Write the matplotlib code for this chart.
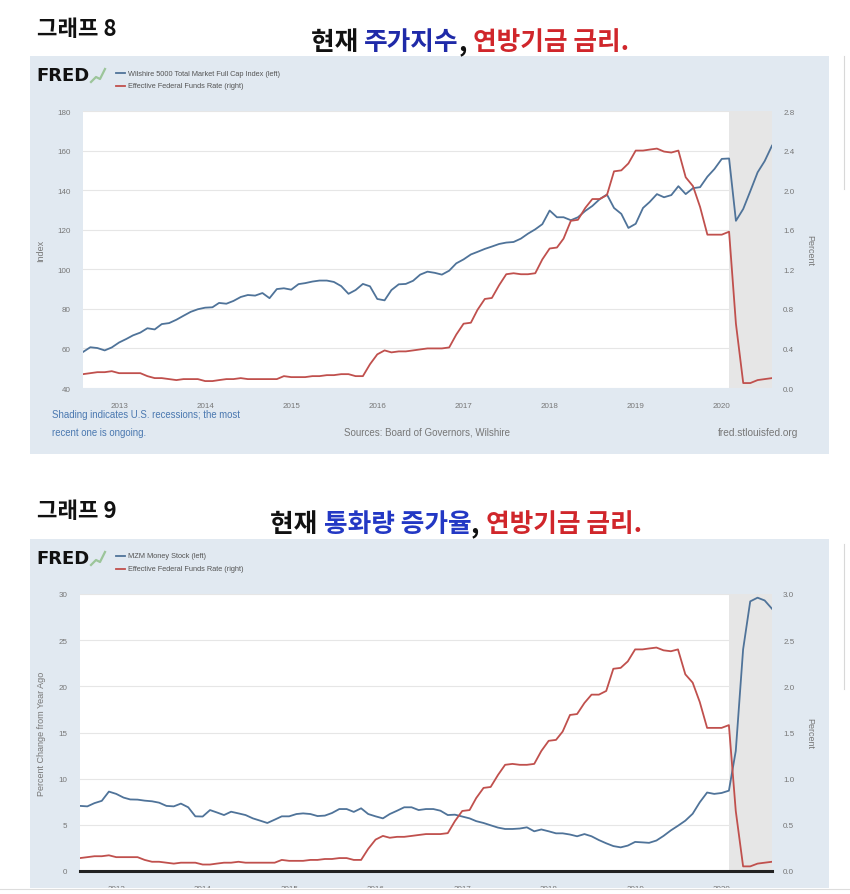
import matplotlib
matplotlib.use("Agg")
import matplotlib.pyplot as plt
import matplotlib.dates as mdates
from matplotlib.patches import Rectangle
from matplotlib.lines import Line2D
from matplotlib.offsetbox import TextArea, HPacker, AnchoredOffsetbox
import pandas as pd

W, H = 850, 895
KR = ["Noto Sans CJK KR", "DejaVu Sans"]
EN = ["Liberation Sans Narrow", "Liberation Sans", "DejaVu Sans"]
BG = "#e1e9f1"
BLUE = "#4f7399"
RED = "#c0504d"

months = pd.date_range("2012-08-01", "2020-08-01", freq="MS")
years = pd.date_range("2013-01-01", "2020-01-01", freq="YS")
recession = (pd.Timestamp("2020-02-01"), pd.Timestamp("2020-08-01"))

wilshire = [58.2, 60.6, 60.2, 59.0, 60.5,
            63.0, 64.8, 66.6, 68.0, 70.2, 69.6, 72.3, 72.8, 74.5, 76.5, 78.5, 79.8,
            80.6, 80.8, 83.0, 82.6, 84.0, 86.0, 87.0, 86.7, 88.0, 85.4, 90.0, 90.4,
            89.7, 92.5, 93.0, 93.8, 94.3, 94.3, 93.6, 91.5, 87.6, 89.5, 92.6, 91.4,
            85.0, 84.3, 89.5, 92.4, 92.6, 94.2, 97.3, 98.8, 98.2, 97.3, 99.3, 103.0,
            105.0, 107.5, 108.8, 110.3, 111.5, 112.8, 113.5, 113.8, 115.5, 118.0, 120.2, 122.8,
            129.7, 126.3, 126.3, 124.8, 126.3, 129.5, 132.0, 135.4, 137.8, 131.0, 128.0, 120.9,
            123.0, 131.0, 134.0, 138.0, 136.4, 137.5, 142.0, 138.0, 141.0, 141.5, 146.8, 150.7,
            155.8, 156.0, 124.5, 130.5, 139.5, 149.0, 154.7, 162.5]

fedfunds = [0.14, 0.15, 0.16, 0.16, 0.17,
            0.15, 0.15, 0.15, 0.15, 0.12, 0.10, 0.10, 0.09, 0.08, 0.09, 0.09, 0.09,
            0.07, 0.07, 0.08, 0.09, 0.09, 0.10, 0.09, 0.09, 0.09, 0.09, 0.09, 0.12,
            0.11, 0.11, 0.11, 0.12, 0.12, 0.13, 0.13, 0.14, 0.14, 0.12, 0.12, 0.24,
            0.34, 0.38, 0.36, 0.37, 0.37, 0.38, 0.39, 0.40, 0.40, 0.40, 0.41, 0.54,
            0.65, 0.66, 0.79, 0.90, 0.91, 1.04, 1.15, 1.16, 1.15, 1.15, 1.16, 1.30,
            1.41, 1.42, 1.51, 1.69, 1.70, 1.82, 1.91, 1.91, 1.95, 2.19, 2.20, 2.27,
            2.40, 2.40, 2.41, 2.42, 2.39, 2.38, 2.40, 2.13, 2.04, 1.83, 1.55, 1.55,
            1.55, 1.58, 0.65, 0.05, 0.05, 0.08, 0.09, 0.10]

mzm_yoy = [7.05, 7.0, 7.35, 7.6, 8.6,
           8.35, 7.95, 7.75, 7.73, 7.62, 7.55, 7.4, 7.05, 7.0, 7.3, 6.9, 5.92,
           5.9, 6.6, 6.35, 6.06, 6.42, 6.24, 6.06, 5.7, 5.45, 5.2, 5.56, 5.92,
           5.92, 6.17, 6.24, 6.17, 5.95, 6.0, 6.28, 6.71, 6.71, 6.4, 6.79, 6.17,
           5.92, 5.7, 6.17, 6.53, 6.9, 6.9, 6.6, 6.71, 6.71, 6.53, 6.06, 6.1,
           5.9, 5.7, 5.4, 5.2, 4.95, 4.7, 4.55, 4.55, 4.6, 4.73, 4.3, 4.5,
           4.3, 4.08, 4.08, 3.95, 3.76, 4.0, 3.76, 3.35, 3.0, 2.7, 2.56, 2.75,
           3.15, 3.1, 3.05, 3.3, 3.8, 4.4, 4.9, 5.45, 6.2, 7.44, 8.5, 8.35,
           8.45, 8.7, 13.0, 24.0, 29.2, 29.6, 29.3, 28.4]

index_ticks = [40, 60, 80, 100, 120, 140, 160, 180]
rate_ticks_1 = [0.0, 0.4, 0.8, 1.2, 1.6, 2.0, 2.4, 2.8]
pct_ticks = [0, 5, 10, 15, 20, 25, 30]
rate_ticks_2 = [0.0, 0.5, 1.0, 1.5, 2.0, 2.5, 3.0]

fig = plt.figure(figsize=(W / 100, H / 100), dpi=100)
fig.patch.set_facecolor("white")


def fx(px):
    return px / W


def fy(py):
    return 1 - py / H


def ftext(px, py, s, **kw):
    kw.setdefault("family", EN)
    fig.text(fx(px), fy(py), s, **kw)


def rect(x0, y0, x1, y1, color, z=-5):
    fig.add_artist(Rectangle((fx(x0), fy(y1)), (x1 - x0) / W, (y1 - y0) / H,
                             transform=fig.transFigure, color=color, lw=0, zorder=z))


def title(cx, cy, parts, size=18.5):
    boxes = [TextArea(s, textprops=dict(color=c, fontsize=size, fontweight="bold", family=KR))
             for s, c in parts]
    box = HPacker(children=boxes, pad=0, sep=0, align="baseline")
    fig.add_artist(AnchoredOffsetbox(loc="center", child=box, pad=0, borderpad=0, frameon=False,
                                     bbox_to_anchor=(fx(cx), fy(cy)),
                                     bbox_transform=fig.transFigure))


def fred_header(top, labels):
    ftext(36, top + 19, "FRED", fontsize=13, fontweight="bold", color="#111",
          va="center", family=["DejaVu Sans"])
    # tiny chart icon next to the logo
    fig.add_artist(Line2D([fx(91), fx(96), fx(100), fx(105)],
                          [fy(top + 26), fy(top + 21), fy(top + 23), fy(top + 13)],
                          transform=fig.transFigure, color="#9cc59a", lw=1.6))
    for k, (lab, col) in enumerate(labels):
        y = top + 17 + 12.5 * k
        fig.add_artist(Line2D([fx(116), fx(125)], [fy(y), fy(y)],
                              transform=fig.transFigure, color=col, lw=1.3))
        ftext(128, y, lab, fontsize=5.3, color="#555", va="center")


def fred_axes(box, left, lticks, llabel, right, rticks, zero_line=False):
    x0, y0, x1, y1 = box
    ax = fig.add_axes([fx(x0), fy(y1), (x1 - x0) / W, (y1 - y0) / H])
    ax.set_facecolor("white")
    ax.axvspan(*recession, color="#e6e6e6", lw=0, zorder=0)
    ax.plot(months, left, color=BLUE, lw=1.3, zorder=3)
    ax.set_xlim(months[0], months[-1])
    ax.set_ylim(lticks[0], lticks[-1])
    ax.set_yticks(lticks)
    ax.set_yticklabels([f"{t:g}" for t in lticks])
    ax.set_xticks(years)
    ax.xaxis.set_major_formatter(mdates.DateFormatter("%Y"))
    ax.grid(axis="y", color="#e6e6e6", lw=0.8, zorder=1)
    ax.set_axisbelow(True)
    if zero_line:
        ax.axhline(0, color="#222", lw=2.2, clip_on=False, zorder=4)
    ax.set_ylabel(llabel, fontsize=6.5, color="#777", family=EN, labelpad=9)

    ax2 = ax.twinx()
    ax2.plot(months, right, color=RED, lw=1.3, zorder=3)
    ax2.set_ylim(rticks[0], rticks[-1])
    ax2.set_yticks(rticks)
    ax2.set_yticklabels([f"{t:.1f}" for t in rticks])
    ax2.set_ylabel("Percent", fontsize=6.5, color="#777", family=EN, rotation=270, labelpad=14)

    for a in (ax, ax2):
        for s in a.spines.values():
            s.set_visible(False)
        a.tick_params(length=0, labelsize=5.8, labelcolor="#777")
        for lab in a.get_xticklabels() + a.get_yticklabels():
            lab.set_family(EN)
    ax.tick_params(axis="x", pad=10)
    ax.tick_params(axis="y", pad=9)
    ax2.tick_params(axis="y", pad=8)
    return ax


# ---- graph 8: Wilshire 5000 vs Fed funds ----
ftext(37, 30, "그래프 8", fontsize=16, fontweight="bold", color="#111", va="center", family=KR)
title(470, 43, [("현재 ", "#111"), ("주가지수", "#1f2aa8"), (", ", "#111"),
                ("연방기금 금리.", "#d0262b")])
rect(30, 57, 829, 455, BG)
fred_header(57, [("Wilshire 5000 Total Market Full Cap Index (left)", BLUE),
                 ("Effective Federal Funds Rate (right)", RED)])
fred_axes((83, 112, 772, 389), wilshire, index_ticks, "Index", fedfunds, rate_ticks_1)
ftext(52, 415, "Shading indicates U.S. recessions; the most", fontsize=6.9,
      color="#4a78b0", va="center")
ftext(52, 433, "recent one is ongoing.", fontsize=6.9, color="#4a78b0", va="center")
ftext(427, 433, "Sources: Board of Governors, Wilshire", fontsize=7.0, color="#777",
      va="center", ha="center")
ftext(798, 433, "fred.stlouisfed.org", fontsize=7.3, color="#777", va="center", ha="right")

# ---- graph 9: MZM growth vs Fed funds ----
ftext(37, 512, "그래프 9", fontsize=16, fontweight="bold", color="#111", va="center", family=KR)
title(456, 525, [("현재 ", "#111"), ("통화량 증가율", "#2338c4"), (", ", "#111"),
                 ("연방기금 금리.", "#d0262b")])
rect(30, 540, 829, 889, BG)
fred_header(540, [("MZM Money Stock (left)", BLUE),
                  ("Effective Federal Funds Rate (right)", RED)])
fred_axes((80, 595, 772, 872), mzm_yoy, pct_ticks, "Percent Change from Year Ago",
          fedfunds, rate_ticks_2, zero_line=True)

# screenshot is cut off at the bottom; faint edges of a neighbouring window on the right
rect(0, 889, W, H, "white", z=20)
fig.add_artist(Line2D([0, 1], [fy(889.5), fy(889.5)], transform=fig.transFigure,
                      color="#dddddd", lw=0.8, zorder=21))
for ya, yb in ((57, 190), (545, 690)):
    fig.add_artist(Line2D([fx(844), fx(844)], [fy(ya), fy(yb)], transform=fig.transFigure,
                          color="#d8d8d8", lw=0.8))

fig.savefig("out.png", dpi=100, facecolor="white")
